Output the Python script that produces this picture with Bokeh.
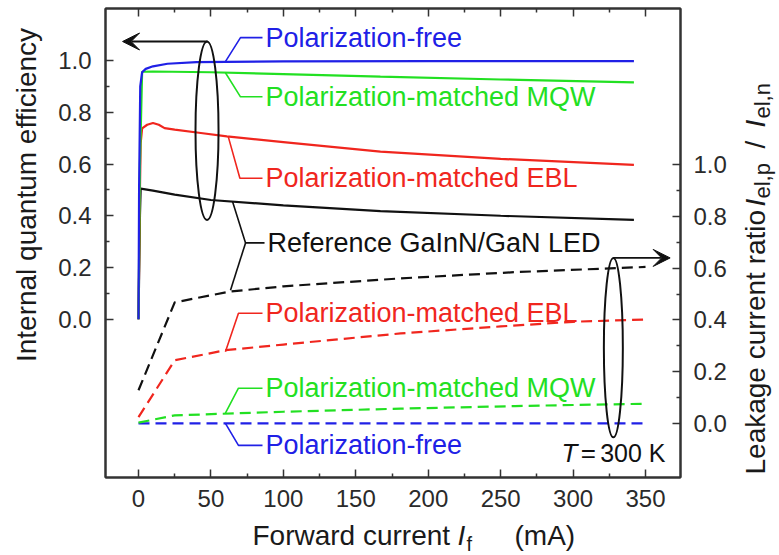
import math
from bokeh.plotting import figure
from bokeh.models import (Range1d, LinearAxis, FixedTicker, PrintfTickFormatter,
                          Label, Arrow, VeeHead)
from bokeh.core.properties import value
from bokeh.embed import file_html
from bokeh.resources import INLINE

# ---------------- data ----------------
# Internal quantum efficiency (left axis), forward current in mA
current_blue = [0, 0.4, 1.2, 2.5, 5, 10, 20, 40, 100, 200, 342]
iqe_blue = [0.0, 0.5, 0.9, 0.955, 0.968, 0.978, 0.988, 0.994, 0.997, 0.998, 0.998]

current_green = [0, 1, 2.5, 10, 50, 100, 167, 250, 342]
iqe_green = [0.0, 0.6, 0.957, 0.958, 0.955, 0.948, 0.938, 0.927, 0.916]

current_red = [0, 1, 1.5, 2.5, 6, 10, 14, 18, 25, 43, 61, 100, 167, 250, 342]
iqe_red = [0.0, 0.5, 0.681, 0.738, 0.752, 0.759, 0.752, 0.739, 0.733, 0.72, 0.707,
           0.685, 0.648, 0.62, 0.597]

current_black = [0, 1, 1.5, 10, 25, 50, 100, 167, 250, 342]
iqe_black = [0.0, 0.4, 0.505, 0.497, 0.482, 0.461, 0.44, 0.418, 0.4, 0.384]

# Leakage current ratio (right axis)
lk_black_x = [0, 25, 63, 100, 181, 260, 350]
lk_black = [0.128, 0.468, 0.51, 0.53, 0.561, 0.585, 0.605]

lk_red_x = [0, 25, 60, 100, 181, 250, 300, 350]
lk_red = [0.024, 0.244, 0.283, 0.305, 0.348, 0.375, 0.393, 0.402]

lk_green_x = [0, 25, 100, 181, 260, 350]
lk_green = [0.003, 0.031, 0.045, 0.057, 0.067, 0.076]

lk_blue_x = [0, 100, 200, 350]
lk_blue = [0.0, 0.0, 0.0, 0.0]

x_ticks = [0, 50, 100, 150, 200, 250, 300, 350]
x_minor = [25, 75, 125, 175, 225, 275, 325]
y_ticks = [0.0, 0.2, 0.4, 0.6, 0.8, 1.0]
y_minor = [0.1, 0.3, 0.5, 0.7, 0.9]

# ---------------- styling ----------------
FONT = "Liberation Sans"
BLUE = "#2020e6"
GREEN = "#22e022"
RED = "#f0261e"
BLACK = "#111111"
AXC = "#333333"

W, H = 779, 555
BL, BR, BT, BB = 105, 99, 8, 78
X0, X1 = -22.78, 374.15
Y0, Y1 = -0.6124, 1.2016

p = figure(width=W, height=H,
           x_range=Range1d(X0, X1), y_range=Range1d(Y0, Y1),
           output_backend="svg", toolbar_location=None,
           min_border_left=BL, min_border_right=BR, min_border_top=BT, min_border_bottom=BB)
p.extra_y_ranges = {"r": Range1d(-0.2093, 1.6047)}
p.xgrid.visible = False
p.ygrid.visible = False
p.outline_line_color = AXC
p.outline_line_width = 2
p.outline_line_alpha = 1
p.background_fill_color = "white"
p.border_fill_color = "white"


def style_axis(ax, ticks, minor, show_labels=True):
    ax.ticker = FixedTicker(ticks=ticks, minor_ticks=minor)
    ax.major_tick_in = 8
    ax.major_tick_out = 0
    ax.minor_tick_in = 4
    ax.minor_tick_out = 0
    ax.major_tick_line_color = AXC
    ax.major_tick_line_width = 1.5
    ax.minor_tick_line_color = AXC
    ax.minor_tick_line_width = 1.5
    ax.axis_line_color = AXC
    ax.axis_line_width = 2
    ax.major_label_text_font = FONT
    if show_labels:
        ax.major_label_text_font_size = "24px"
        ax.major_label_text_color = "#2a2a2a"
    else:
        ax.major_label_text_font_size = "1px"
        ax.major_label_text_color = None
        ax.major_label_standoff = 0


xax = p.xaxis[0]
style_axis(xax, x_ticks, x_minor)
xax.major_label_standoff = 12

yax = p.yaxis[0]
style_axis(yax, y_ticks, y_minor)
yax.formatter = PrintfTickFormatter(format="%.1f")
yax.major_label_standoff = 14

rax = LinearAxis(y_range_name="r")
style_axis(rax, y_ticks, y_minor)
rax.formatter = PrintfTickFormatter(format="%.1f")
rax.major_label_standoff = 13
p.add_layout(rax, "right")

tax = LinearAxis()
style_axis(tax, x_ticks, x_minor, show_labels=False)
p.add_layout(tax, "above")

# ---------------- leakage (dashed, right axis) ----------------
DASH = "11 6"
p.line(lk_blue_x, lk_blue, line_color=BLUE, line_width=2.2, line_dash=DASH, y_range_name="r")
p.line(lk_green_x, lk_green, line_color=GREEN, line_width=2.2, line_dash=DASH, y_range_name="r")
p.line(lk_red_x, lk_red, line_color=RED, line_width=2.2, line_dash=DASH, y_range_name="r")
p.line(lk_black_x, lk_black, line_color=BLACK, line_width=2.2, line_dash=DASH, y_range_name="r")

# ---------------- IQE (solid, left axis) ----------------
p.line(current_black, iqe_black, line_color=BLACK, line_width=2.2)
p.line(current_red, iqe_red, line_color=RED, line_width=2.2)
p.line(current_green, iqe_green, line_color=GREEN, line_width=2.2)
p.line(current_blue, iqe_blue, line_color=BLUE, line_width=2.2)

# ---------------- leaders & annotation text ----------------
TXT = "27px"


def note(x, y, text, color, rng="default", size=TXT, italic=False, align="left"):
    p.add_layout(Label(x=x, y=y, text=text, text_font=FONT, text_font_size=size,
                       text_font_style="italic" if italic else "normal",
                       text_color=color, text_align=align, text_baseline="middle",
                       y_range_name=rng))


# left-axis leaders
p.line([60.0, 70.4, 85.6], [0.996, 1.089, 1.089], line_color=BLUE, line_width=1.6)
note(87.6, 1.089, "Polarization-free", BLUE)
p.line([60.0, 70.4, 85.6], [0.953, 0.860, 0.860], line_color=GREEN, line_width=1.6)
note(87.6, 0.860, "Polarization-matched MQW", GREEN)
p.line([62.0, 70.0, 85.6], [0.705, 0.545, 0.545], line_color=RED, line_width=1.6)
note(87.6, 0.545, "Polarization-matched EBL", RED)
p.line([64.9, 73.9, 87.0], [0.455, 0.295, 0.295], line_color=BLACK, line_width=1.6)
p.line([73.9, 63.5], [0.295, 0.112], line_color=BLACK, line_width=1.6)
note(89.0, 0.295, "Reference GaInN/GaN LED", BLACK)

# right-axis leaders
p.line([60.0, 69.0, 85.6], [0.277, 0.426, 0.426], line_color=RED, line_width=1.6, y_range_name="r")
note(87.6, 0.426, "Polarization-matched EBL", RED, "r")
p.line([60.0, 69.0, 85.6], [0.040, 0.136, 0.136], line_color=GREEN, line_width=1.6, y_range_name="r")
note(87.6, 0.136, "Polarization-matched MQW", GREEN, "r")
p.line([60.0, 69.0, 85.6], [0.0, -0.085, -0.085], line_color=BLUE, line_width=1.6, y_range_name="r")
note(87.6, -0.085, "Polarization-free", BLUE, "r")

# ellipses and arrows
p.ellipse(x=[47.3], y=[0.729], width=15.9, height=0.69, fill_color=None,
          line_color=BLACK, line_width=2)
p.ellipse(x=[327.8], y=[0.293], width=13.1, height=0.694, fill_color=None,
          line_color=BLACK, line_width=2, y_range_name="r")
p.add_layout(Arrow(x_start=47.6, y_start=1.074, x_end=-11.0, y_end=1.074,
                   line_color=BLACK, line_width=1.8,
                   end=VeeHead(size=17, fill_color=BLACK, line_color=BLACK)))
p.add_layout(Arrow(x_start=327.8, y_start=0.64, x_end=367.0, y_end=0.64,
                   line_color=BLACK, line_width=1.8, y_range_name="r",
                   end=VeeHead(size=17, fill_color=BLACK, line_color=BLACK)))

# T = 300 K
note(303.0, -0.116, "T", BLACK, "r", size="26px", italic=True, align="right")
note(310.6, -0.116, "=", BLACK, "r", size="26px", align="center")
note(363.8, -0.116, "300 K", BLACK, "r", size="25px", align="right")

# ---------------- axis titles: text glyphs on the overlay level ----------------
TITLE = "28px"
TC = "#1a1a1a"
FW = W - BL - BR
FH = H - BT - BB


def to_data(px, py):
    """page pixel -> default-range data coordinates (for title placement only)"""
    return (X0 + (px - BL) * (X1 - X0) / FW,
            Y1 - (py - BT) * (Y1 - Y0) / FH)


def piece(px, py, text, size, italic=False, angle=0.0, align="left"):
    x, y = to_data(px, py)
    p.text(x=[x], y=[y], text=[text], text_font=value(FONT), text_font_size=value(size),
           text_font_style=value("italic" if italic else "normal"),
           text_color=TC, text_align=value(align), text_baseline=value("middle"),
           angle=angle, level="overlay")


# left title
piece(26.3, 194.5, "Internal quantum efficiency", TITLE, angle=math.pi / 2, align="center")

# bottom title
piece(252, 535.3, "Forward current", TITLE)
piece(457, 535.3, "I", TITLE, italic=True)
piece(466, 543, "f", "20px")
piece(514, 535.3, "(mA)", TITLE)

# right title
A = math.pi / 2
piece(755.3, 474, "Leakage current ratio", TITLE, angle=A)
piece(755.3, 206, "I", TITLE, italic=True, angle=A)
piece(762.4, 198, "el,p", "22px", angle=A)
piece(755.3, 148, "/", TITLE, angle=A)
piece(755.3, 127, "I", TITLE, italic=True, angle=A)
piece(762.4, 118, "el,n", "22px", angle=A)

open("out.html", "w").write(file_html(p, INLINE))
